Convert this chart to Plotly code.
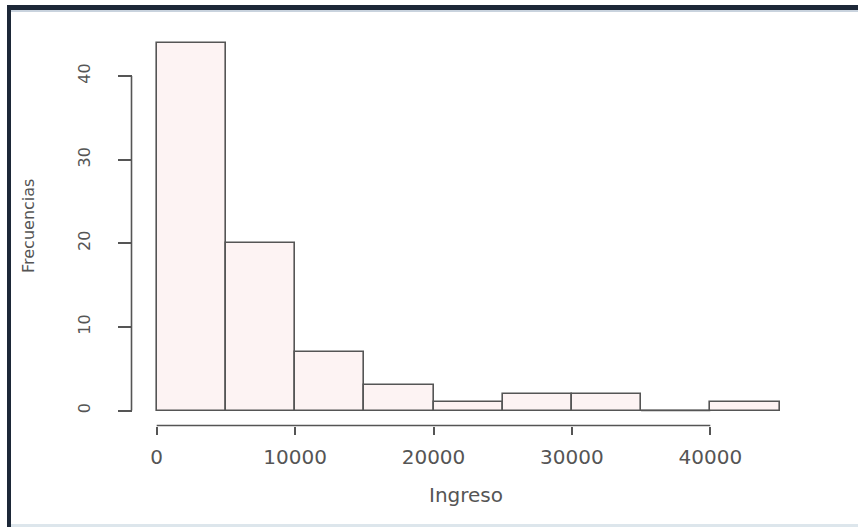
import plotly.graph_objects as go

# Data
bin_starts = [0, 5000, 10000, 15000, 20000, 25000, 30000, 35000, 40000]
bin_width = 5000
counts = [44, 20, 7, 3, 1, 2, 2, 0, 1]
x_ticks = [0, 10000, 20000, 30000, 40000]
x_ticktext = ["0", "10000", "20000", "30000", "40000"]
y_ticks = [0, 10, 20, 30, 40]
y_ticktext = ["0", "10", "20", "30", "40"]

W, H = 858, 527
txt = "#555555"
line = "#555555"

centers = [s + bin_width / 2 for s in bin_starts]

fig = go.Figure()
fig.add_trace(go.Bar(
    x=centers, y=counts, width=[bin_width] * len(counts),
    marker=dict(color="#fdf3f3", line=dict(color=line, width=1.6)),
    hoverinfo="skip", showlegend=False,
))

# pixel mapping
px_per_unit_x = 69.2 / 5000
x0_px = 156.7
xmin = -x0_px / px_per_unit_x
xmax = (W - x0_px) / px_per_unit_x
px_per_unit_y = (410.5 - 76) / 40
y0_px = 410.5
ymax = y0_px / px_per_unit_y
ymin = -(H - y0_px) / px_per_unit_y

xaxis_pos = (H - 425.5) / H
yaxis_pos = 131.5 / W

shapes = [
    # R-style axis lines spanning first to last tick
    dict(type="line", xref="x", yref="paper", x0=min(x_ticks), x1=max(x_ticks),
         y0=xaxis_pos, y1=xaxis_pos, line=dict(color=line, width=1.6)),
    dict(type="line", xref="paper", yref="y", x0=yaxis_pos, x1=yaxis_pos,
         y0=min(y_ticks), y1=max(y_ticks), line=dict(color=line, width=1.6)),
]
# empty bins are still outlined as a flat line (as R's hist does)
for s, c in zip(bin_starts, counts):
    if c == 0:
        shapes.append(dict(type="line", xref="x", yref="y", x0=s, x1=s + bin_width,
                           y0=c, y1=c, line=dict(color=line, width=1.6)))
# screenshot frame
shapes += [
    dict(type="rect", xref="paper", yref="paper", x0=7 / W, x1=1, y0=(H - 10) / H, y1=(H - 5) / H,
         fillcolor="#1d2838", line=dict(width=0), layer="above"),
    dict(type="rect", xref="paper", yref="paper", x0=7 / W, x1=11 / W, y0=0, y1=(H - 5) / H,
         fillcolor="#1d2838", line=dict(width=0), layer="above"),
    dict(type="rect", xref="paper", yref="paper", x0=11 / W, x1=1, y0=0, y1=3 / H,
         fillcolor="#dde6ec", line=dict(width=0), layer="above"),
    dict(type="rect", xref="paper", yref="paper", x0=11 / W, x1=1, y0=(H - 12) / H, y1=(H - 10) / H,
         fillcolor="#c9d3de", line=dict(width=0), layer="above"),
]

fig.update_layout(
    width=W, height=H,
    margin=dict(l=0, r=0, t=0, b=0),
    paper_bgcolor="white", plot_bgcolor="rgba(0,0,0,0)",
    bargap=0,
    xaxis=dict(
        range=[xmin, xmax], domain=[0, 1], anchor="free", position=xaxis_pos,
        showgrid=False, zeroline=False, showline=False,
        tickmode="array", tickvals=x_ticks, ticktext=x_ticktext,
        ticks="outside", ticklen=8, tickwidth=1.6, tickcolor=line,
        tickfont=dict(family="DejaVu Sans", size=20, color=txt),
        ticklabelstandoff=5, automargin=False, fixedrange=True,
    ),
    yaxis=dict(
        range=[ymin, ymax], domain=[0, 1], anchor="free", position=yaxis_pos,
        showgrid=False, zeroline=False, showline=False,
        tickmode="array", tickvals=y_ticks, ticktext=y_ticktext,
        ticks="outside", ticklen=14, tickwidth=1.6, tickcolor=line,
        tickangle=-90,
        tickfont=dict(family="DejaVu Sans", size=16, color=txt),
        ticklabelstandoff=21, automargin=False, fixedrange=True,
    ),
    shapes=shapes,
    annotations=[
        dict(text="Ingreso", xref="paper", yref="paper", x=466 / W, y=(H - 495) / H,
             xanchor="center", yanchor="middle", showarrow=False,
             font=dict(family="DejaVu Sans", size=20, color=txt)),
        dict(text="Frecuencias", xref="paper", yref="paper", x=28 / W, y=(H - 226) / H,
             xanchor="center", yanchor="middle", showarrow=False, textangle=-90,
             font=dict(family="DejaVu Sans", size=16, color=txt)),
    ],
)

fig.write_html("out.html", config={"displayModeBar": False},
               post_script="document.body.style.margin='0';")
